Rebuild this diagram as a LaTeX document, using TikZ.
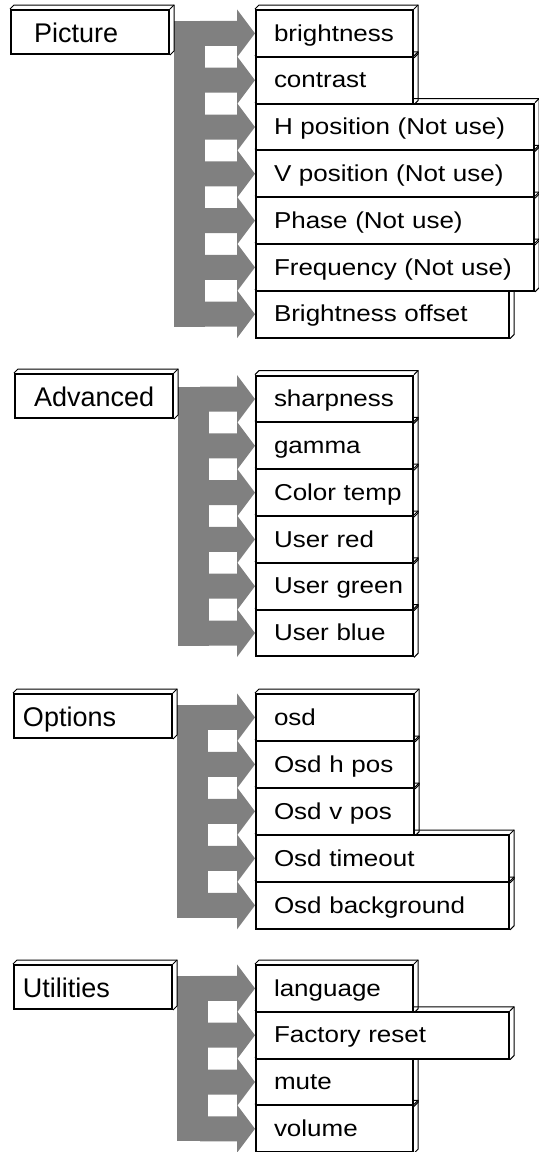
\documentclass[tikz,border=0pt]{standalone}
\usepackage{fontspec}
\setmainfont{Liberation Sans}
\newfontfamily\itemfont[FakeStretch=1.13]{Liberation Sans}
\usetikzlibrary{calc,backgrounds}
\definecolor{flowgray}{RGB}{128,128,128}
\tikzset{
  menubox/.style={draw,fill=white,line width=1pt,anchor=north west,inner sep=0pt,align=left,text width=#1*0.5pt},
  itembox/.style={menubox=#1,minimum height=23.4pt,font=\itemfont\fontsize{11.5}{13}\selectfont,text height=9.5pt,text depth=1.8pt,execute at begin node={\hspace*{9pt}}},
  headbox/.style={menubox=158,minimum height=22pt,font=\fontsize{13.5}{15}\selectfont,text height=10.8pt,text depth=0.5pt,execute at begin node={\hspace*{#1}}},
  backline/.style={line width=0.5pt},
  flow/.style={fill=flowgray}
}
% back edges of a box
\newcommand\boxshade[1]{%
  \draw[backline](#1.north west)--++(4,-4)-|([shift={(2pt,2pt)}]#1.south east)--(#1.south east);
  \draw[backline](#1.north east)--++(4,-4);}
% block arrow into an item
\newcommand\flowarrow[1]{%
  \fill[flow](#1.west)--++(-18,-24)--++(0,11.5)--++(-37,0)--++(0,25)--++(37,0)--++(0,11.5)--cycle;}
% upright bar next to a head box
\newcommand\flowbar[3]{%
  \fill[flow]let\p1=(#1.east),\p2=(#2.west),\p3=(#3.west)in(\x1+2pt,\y2+6.25pt)rectangle(\x1+17.5pt,\y3-6.25pt);
  \boxshade{#1}}
\begin{document}
\begin{tikzpicture}[x=0.5pt,y=-0.5pt]
\useasboundingbox(0,0)rectangle(539,1152);
% Picture
\node[headbox=11.5pt](picture)at(10,9){Picture};
\foreach\w/\txt[count=\i]in{157/brightness,157/contrast,278/H position (Not use),278/V position (Not use),278/Phase (Not use),278/Frequency (Not use),253/Brightness offset}{
  \node[itembox=\w](picture\i)at(255,{9+46.8*(\i-1)}){\txt};
  \begin{scope}[on background layer]\boxshade{picture\i}\end{scope}
  \flowarrow{picture\i}}
\flowbar{picture}{picture1}{picture7}
% Advanced
\node[headbox=9.5pt](advanced)at(14,373){Advanced};
\foreach\w/\txt[count=\i]in{157/sharpness,157/gamma,157/Color temp,157/User red,157/User green,157/User blue}{
  \node[itembox=\w](advanced\i)at(255,{374.6+46.8*(\i-1)}){\txt};
  \begin{scope}[on background layer]\boxshade{advanced\i}\end{scope}
  \flowarrow{advanced\i}}
\flowbar{advanced}{advanced1}{advanced6}
% Options
\node[headbox=4.5pt](options)at(13,693){Options};
\foreach\w/\txt[count=\i]in{158/osd,158/Osd h pos,158/Osd v pos,253/Osd timeout,253/Osd background}{
  \node[itembox=\w](options\i)at(255,{693+47*(\i-1)}){\txt};
  \begin{scope}[on background layer]\boxshade{options\i}\end{scope}
  \flowarrow{options\i}}
\flowbar{options}{options1}{options5}
% Utilities
\node[headbox=4.5pt](utilities)at(13,964){Utilities};
\foreach\w/\txt[count=\i]in{157/language,253/Factory reset,157/mute,157/volume}{
  \node[itembox=\w](utilities\i)at(255,{964+46.8*(\i-1)}){\txt};
  \begin{scope}[on background layer]\boxshade{utilities\i}\end{scope}
  \flowarrow{utilities\i}}
\flowbar{utilities}{utilities1}{utilities4}
\end{tikzpicture}
\end{document}
